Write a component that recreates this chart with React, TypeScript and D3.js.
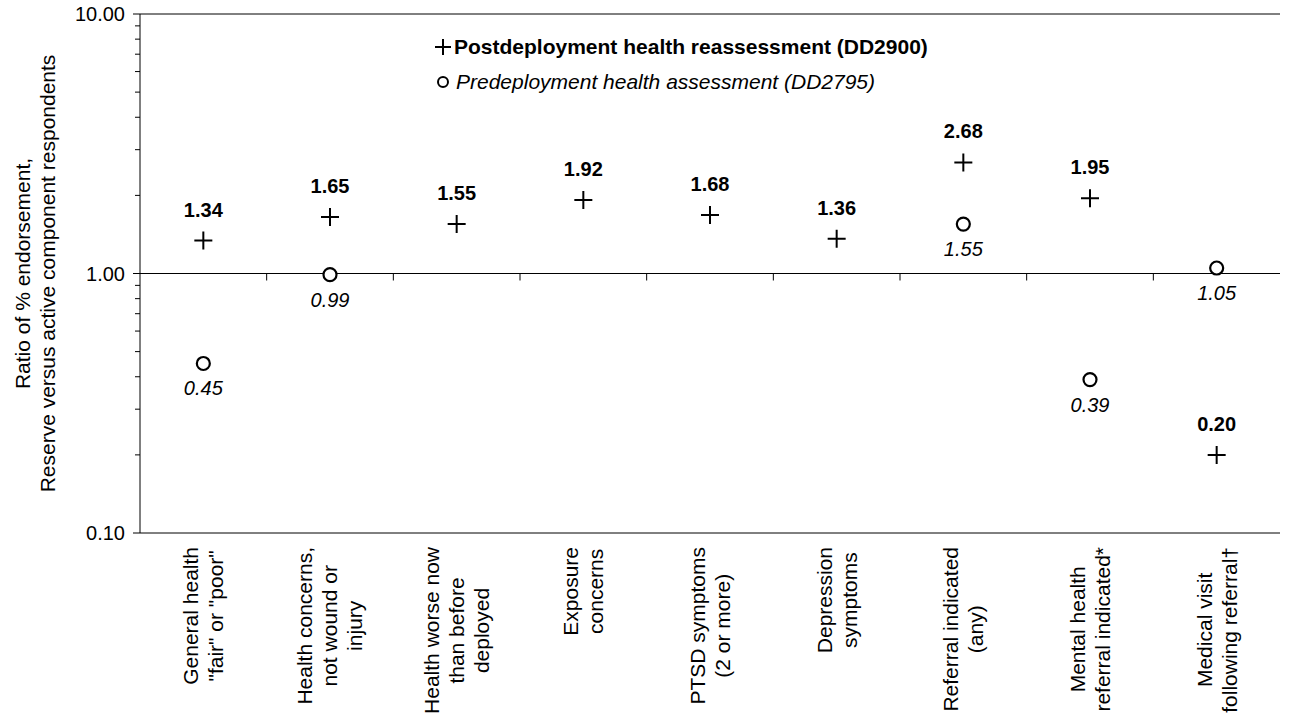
import * as d3 from "d3";

const categories = [
  ["General health", "\"fair\" or \"poor\""],
  ["Health concerns,", "not wound or", "injury"],
  ["Health worse now", "than before", "deployed"],
  ["Exposure", "concerns"],
  ["PTSD symptoms", "(2 or more)"],
  ["Depression", "symptoms"],
  ["Referral indicated", "(any)"],
  ["Mental health", "referral indicated*"],
  ["Medical visit", "following referral\u2020"],
];
const postValues: (number | null)[] = [1.34, 1.65, 1.55, 1.92, 1.68, 1.36, 2.68, 1.95, 0.2];
const preValues: (number | null)[] = [0.45, 0.99, null, null, null, null, 1.55, 0.39, 1.05];
const yTicks = [10, 1, 0.1];

const W = 1295, H = 715;
const left = 140, right = 1280, top = 14, bottom = 533;
const font = "Arial, 'Liberation Sans', sans-serif";
const catSize = 21;

const canvas = typeof document !== "undefined" ? document.createElement("canvas") : null;
function textW(s: string) {
  const ctx = canvas!.getContext("2d")!;
  ctx.font = `${catSize}px ${font}`;
  return ctx.measureText(s).width;
}

export default function App() {
  const x = d3.scaleBand<number>().domain(d3.range(categories.length)).range([left, right]);
  const y = d3.scaleLog().domain([0.1, 10]).range([bottom, top]);
  const cx = (i: number) => x(i)! + x.bandwidth() / 2;
  const minor: number[] = [];
  [0.1, 1].forEach((b) => d3.range(2, 10).forEach((k) => minor.push(b * k)));

  return (
    <svg width={W} height={H} style={{ position: "absolute", left: 0, top: 0, fontFamily: font }}>
      <line x1={left} x2={left} y1={top} y2={bottom} stroke="#000" />
      <line x1={left} x2={right} y1={top} y2={top} stroke="#000" />
      <line x1={left} x2={right} y1={y(1)} y2={y(1)} stroke="#000" />
      <line x1={left} x2={right} y1={bottom} y2={bottom} stroke="#000" />
      {yTicks.map((t) => (
        <g key={t}>
          <line x1={left - 7} x2={left} y1={y(t)} y2={y(t)} stroke="#000" />
          <text x={left - 15} y={y(t)} dy="0.35em" textAnchor="end" fontSize={20}>{t.toFixed(2)}</text>
        </g>
      ))}
      {minor.map((t) => (
        <line key={t} x1={left - 5} x2={left} y1={y(t)} y2={y(t)} stroke="#000" />
      ))}
      {d3.range(1, categories.length).map((i) => (
        <line key={i} x1={x(i)} x2={x(i)} y1={y(1)} y2={y(1) + 7} stroke="#000" />
      ))}
      <text transform={`translate(30,${y(1)}) rotate(-90)`} textAnchor="middle" fontSize={21}>
        <tspan x={0} dy={0}>Ratio of % endorsement,</tspan>
        <tspan x={0} dy={25}>Reserve versus active component respondents</tspan>
      </text>
      {categories.map((lines, i) => {
        const mw = Math.max(...lines.map(textW));
        const c = bottom + 14 + mw / 2;
        const n = lines.length;
        return (
          <g key={i} transform={`translate(${cx(i)},${c}) rotate(-90)`}>
            {lines.map((l, j) => (
              <text key={j} x={0} y={(j - (n - 1) / 2) * 25} dy="0.35em" textAnchor="middle" fontSize={catSize}>{l}</text>
            ))}
          </g>
        );
      })}
      {postValues.map((v, i) =>
        v == null ? null : (
          <g key={"p" + i}>
            <path d={`M${cx(i) - 9},${y(v)}H${cx(i) + 9}M${cx(i)},${y(v) - 9}V${y(v) + 9}`} stroke="#000" strokeWidth={2} />
            <text x={cx(i)} y={y(v) - 24} textAnchor="middle" fontSize={20} fontWeight="bold">{v.toFixed(2)}</text>
          </g>
        )
      )}
      {preValues.map((v, i) =>
        v == null ? null : (
          <g key={"c" + i}>
            <circle cx={cx(i)} cy={y(v)} r={6.5} fill="#fff" stroke="#000" strokeWidth={2.2} />
            <text x={cx(i)} y={y(v) + 32} textAnchor="middle" fontSize={20} fontStyle="italic">{v.toFixed(2)}</text>
          </g>
        )
      )}
      <path d="M435,47H451M443,39V55" stroke="#000" strokeWidth={2} />
      <text x={454} y={47} dy="0.35em" fontSize={21} fontWeight="bold">Postdeployment health reassessment (DD2900)</text>
      <circle cx={443} cy={82} r={5} fill="#fff" stroke="#000" strokeWidth={2} />
      <text x={456} y={82} dy="0.35em" fontSize={21} fontStyle="italic">Predeployment health assessment (DD2795)</text>
    </svg>
  );
}
